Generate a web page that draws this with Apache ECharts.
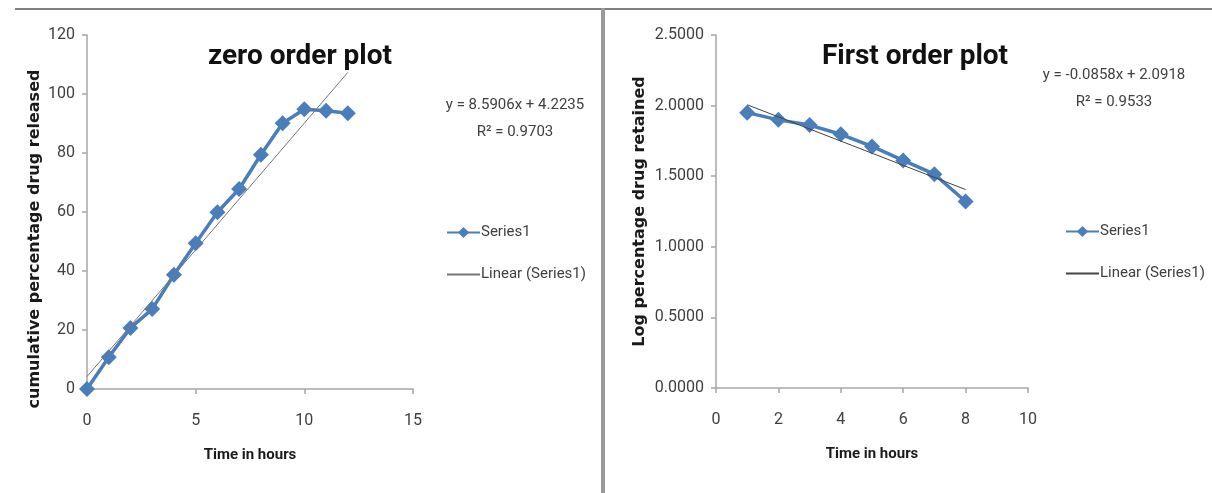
<!DOCTYPE html>
<html>
<head>
<meta charset="utf-8">
<script src="https://cdn.jsdelivr.net/npm/echarts@6/dist/echarts.min.js"></script>
<style>
  html, body { margin: 0; padding: 0; background: #fff; }
  #chart { width: 1212px; height: 493px; }
</style>
</head>
<body>
<div id="chart"></div>
<script>
// Zero order release: cumulative % drug released vs time (h)
const zeroHours = [0, 1, 2, 3, 4, 5, 6, 7, 8, 9, 10, 11, 12];
const zeroReleased = [0, 10.8, 20.7, 27.1, 38.7, 49.4, 59.9, 67.8, 79.4, 90.1, 94.8, 94.3, 93.5];
const zeroFit = [8.5906, 4.2235, 0.9703];   // slope, intercept, R²

// First order release: log % drug retained vs time (h)
const firstHours = [1, 2, 3, 4, 5, 6, 7, 8];
const firstLogRetained = [1.950, 1.899, 1.862, 1.797, 1.711, 1.612, 1.514, 1.321];
const firstFit = [-0.0858, 2.0918, 0.9533]; // slope, intercept, R²

const zeroXTicks = [0, 15, 5];     // min, max, step
const zeroYTicks = [0, 120, 20];
const firstXTicks = [0, 10, 2];
const firstYTicks = [0, 2.5, 0.5];

const BLUE = '#4a7ebb';
const AXIS = '#a6a6a6';
const TXT = '#404040';
const NARROW = "'Roboto', 'Liberation Sans', sans-serif";
const WIDE = "'DejaVu Sans', 'Verdana', sans-serif";

function pairs(xs, ys) { return xs.map((x, i) => [x, ys[i]]); }
function trend(xs, fit) {
  const a = xs[0], b = xs[xs.length - 1];
  return [[a, fit[0] * a + fit[1]], [b, fit[0] * b + fit[1]]];
}
function eqText(fit) {
  const sign = fit[1] >= 0 ? '+' : '-';
  return 'y = ' + fit[0].toFixed(4) + 'x ' + sign + ' ' + Math.abs(fit[1]).toFixed(4) +
         '\nR² = ' + fit[2].toFixed(4);
}

function xAxisCfg(gridIndex, t) {
  return {
    type: 'value', gridIndex, min: t[0], max: t[1], interval: t[2],
    name: 'Time in hours', nameLocation: 'middle', nameGap: 59,
    nameTextStyle: { fontFamily: NARROW, fontWeight: 'bold', fontSize: 15, color: '#1a1a1a' },
    axisLine: { lineStyle: { color: AXIS, width: 1.5 } },
    axisTick: { show: true, length: 5, lineStyle: { color: AXIS, width: 1.5 } },
    axisLabel: { margin: 24, fontFamily: NARROW, fontSize: 16, color: TXT },
    splitLine: { show: false }
  };
}
function yAxisCfg(gridIndex, t, name, gap, digits, pad) {
  return {
    type: 'value', gridIndex, min: t[0], max: t[1], interval: t[2],
    name, nameLocation: 'middle', nameGap: gap, nameRotate: 90,
    nameTextStyle: { fontFamily: WIDE, fontWeight: 'bold', fontSize: 16, color: '#1a1a1a', padding: pad },
    axisLine: { show: true, lineStyle: { color: AXIS, width: 1.5 } },
    axisTick: { show: true, length: 5, lineStyle: { color: AXIS, width: 1.5 } },
    axisLabel: { margin: 12, fontFamily: NARROW, fontSize: 16, color: TXT,
                 formatter: v => v.toFixed(digits) },
    splitLine: { show: false }
  };
}
function legendCfg(left, top, names) {
  return {
    orient: 'vertical', left, top, itemWidth: 33, itemHeight: 14, itemGap: 27,
    padding: 0, data: names, formatter: n => n.trim(), selectedMode: false,
    textStyle: { fontFamily: NARROW, fontSize: 15, color: TXT, padding: [0, 0, 0, -4] }
  };
}

const chart = echarts.init(document.getElementById('chart'));
chart.setOption({
  backgroundColor: '#fff',
  animation: false,
  title: [
    { text: 'zero order plot', left: 300, top: 43, textAlign: 'center', padding: 0,
      textStyle: { fontFamily: NARROW, fontWeight: 'bold', fontSize: 28, color: '#111' } },
    { text: 'First order plot', left: 915, top: 43, textAlign: 'center', padding: 0,
      textStyle: { fontFamily: NARROW, fontWeight: 'bold', fontSize: 28, color: '#111' } },
    { text: eqText(zeroFit), left: 515, top: 92, textAlign: 'center', padding: 0,
      textStyle: { fontFamily: NARROW, fontWeight: 'normal', fontSize: 15, lineHeight: 27, color: TXT } },
    { text: eqText(firstFit), left: 1114, top: 62, textAlign: 'center', padding: 0,
      textStyle: { fontFamily: NARROW, fontWeight: 'normal', fontSize: 15, lineHeight: 27, color: TXT } }
  ],
  legend: [
    legendCfg(446, 225, ['Series1', 'Linear (Series1)']),
    legendCfg(1065, 224, ['Series1 ', 'Linear (Series1) '])
  ],
  grid: [
    { left: 87, top: 35, width: 326, height: 354 },
    { left: 716, top: 35, width: 312, height: 353 }
  ],
  xAxis: [xAxisCfg(0, zeroXTicks), xAxisCfg(1, firstXTicks)],
  yAxis: [
    yAxisCfg(0, zeroYTicks, 'cumulative percentage drug released', 44, 0, [0, 54, 0, 0]),
    yAxisCfg(1, firstYTicks, 'Log percentage drug retained', 68, 4, 0)
  ],
  series: [
    { name: 'Series1', type: 'line', xAxisIndex: 0, yAxisIndex: 0,
      data: pairs(zeroHours, zeroReleased),
      symbol: 'diamond', symbolSize: 16, showAllSymbol: true,
      lineStyle: { color: BLUE, width: 3.5 }, itemStyle: { color: BLUE }, z: 2 },
    { name: 'Linear (Series1)', type: 'line', xAxisIndex: 0, yAxisIndex: 0,
      data: trend(zeroHours, zeroFit), symbol: 'none',
      lineStyle: { color: '#777', width: 1 }, itemStyle: { color: '#888', opacity: 0 }, z: 3 },
    { name: 'Series1 ', type: 'line', xAxisIndex: 1, yAxisIndex: 1,
      data: pairs(firstHours, firstLogRetained),
      symbol: 'diamond', symbolSize: 16, showAllSymbol: true,
      lineStyle: { color: BLUE, width: 3.5 }, itemStyle: { color: BLUE }, z: 2 },
    { name: 'Linear (Series1) ', type: 'line', xAxisIndex: 1, yAxisIndex: 1,
      data: trend(firstHours, firstFit), symbol: 'none',
      lineStyle: { color: '#444', width: 1 }, itemStyle: { color: '#888', opacity: 0 }, z: 3 }
  ],
  graphic: [
    // panel frame: top rule and centre divider
    { type: 'rect', shape: { x: 15, y: 8, width: 1197, height: 2 }, style: { fill: '#7f7f7f' }, silent: true },
    { type: 'rect', shape: { x: 601, y: 8, width: 4, height: 485 }, style: { fill: '#9a9a9a' }, silent: true }
  ]
});
</script>
</body>
</html>
